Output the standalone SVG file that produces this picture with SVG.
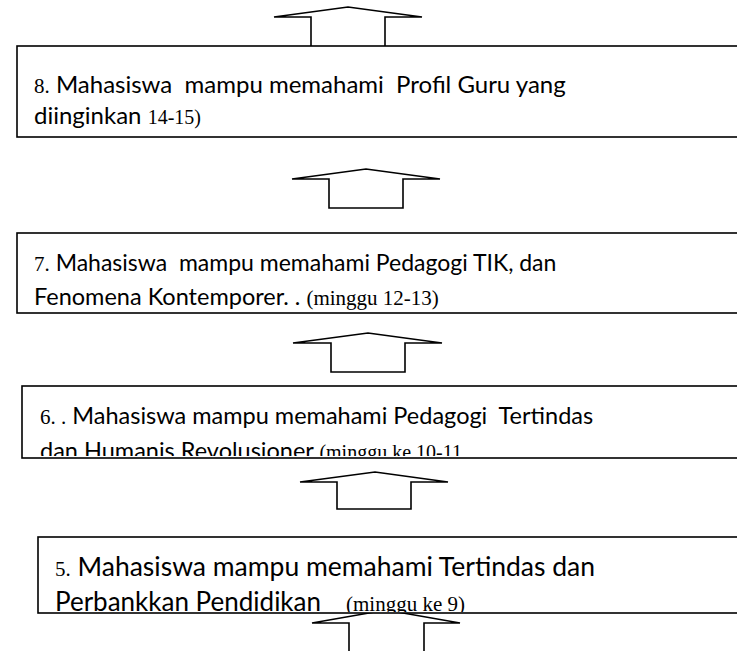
<svg xmlns="http://www.w3.org/2000/svg" width="737" height="651" viewBox="0 0 737 651">
<style>
.box{fill:#fff;stroke:#000;stroke-width:1.6}
.arr{fill:#fff;stroke:#000;stroke-width:1.6;stroke-linejoin:miter}
.t{font-family:Lato,"Open Sans","Liberation Sans",sans-serif;font-size:24px;fill:#000;white-space:pre}
.s{font-family:"Liberation Serif",serif;font-size:20px}
.n{font-family:"Liberation Serif",serif;font-size:21px}
</style>
<defs>
<clipPath id="c7"><rect x="17" y="233" width="730" height="79"/></clipPath>
<clipPath id="c6"><rect x="22" y="386" width="730" height="70"/></clipPath>
<clipPath id="c5"><rect x="38" y="537" width="730" height="75"/></clipPath>
</defs>
<g id="connectors">
<path class="arr" d="M311,46 L311,17 L274,17 L348,7 L422,17 L385,17 L385,46"/>
<path class="arr" d="M329,208 L329,179 L292,179 L366,169 L440,179 L403,179 L403,208 Z"/>
<path class="arr" d="M331,372 L331,343 L293,343 L368,333 L442,343 L405,343 L405,372 Z"/>
<path class="arr" d="M337,509 L337,482 L300,482 L375,472 L448,482 L411,482 L411,509 Z"/>
<path class="arr" d="M349,660 L349,623 L312,623 L386,610 L460,623 L424,623 L424,660"/>
</g>
<g id="node8">
<rect class="box" x="17" y="46" width="740" height="91"/>
<text class="t" x="34" y="93"><tspan class="n">8.</tspan> Mahasiswa  mampu memahami  Profil Guru yang</text>
<text class="t" x="34" y="124">diinginkan <tspan class="s">14-15)</tspan></text>
</g>
<g id="node7">
<rect class="box" x="17" y="233" width="740" height="80"/>
<g clip-path="url(#c7)">
<text class="t" x="34" y="271" style="font-size:23px"><tspan class="n">7.</tspan> Mahasiswa  mampu memahami Pedagogi TIK, dan</text>
<text class="t" x="34" y="305" style="font-size:23.5px">Fenomena Kontemporer. . <tspan class="s" style="font-size:21px">(minggu 12-13)</tspan></text>
</g>
</g>
<g id="node6">
<rect class="box" x="22" y="386" width="740" height="72"/>
<g clip-path="url(#c6)">
<text class="t" x="40" y="424" style="font-size:23.5px"><tspan class="n">6. .</tspan> Mahasiswa mampu memahami Pedagogi  Tertindas</text>
<text class="t" x="40" y="459" style="font-size:23.5px">dan Humanis Revolusioner <tspan class="s">(minggu ke 10-11</tspan></text>
</g>
</g>
<g id="node5">
<rect class="box" x="38" y="537" width="740" height="76"/>
<g clip-path="url(#c5)">
<text class="t" x="55" y="576" style="font-size:26.5px"><tspan class="n">5.</tspan> Mahasiswa mampu memahami Tertindas dan</text>
<text class="t" x="55" y="611" style="font-size:26px">Perbankkan Pendidikan</text>
<text class="t s" x="346" y="611" style="font-size:21px">(minggu ke 9)</text>
</g>
</g>
</svg>
